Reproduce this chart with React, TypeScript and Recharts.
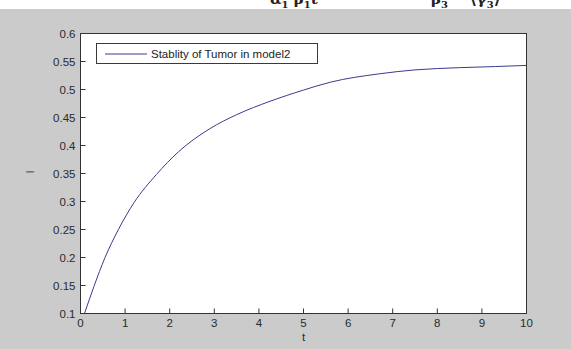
import React from 'react';
import { LineChart, Line, XAxis, YAxis, Legend } from 'recharts';

// time samples and stability values
const tValues = [0.09, 0.3, 0.55, 0.85, 1.2, 1.7, 2.2, 2.9, 3.5, 4.25, 5, 5.6, 6.7, 7.5, 8.5, 9.3, 10];
const iValues = [0.1, 0.148, 0.2, 0.25, 0.298, 0.348, 0.389, 0.43, 0.455, 0.479, 0.499, 0.513, 0.528, 0.535, 0.539, 0.541, 0.543];

const xTicks = [0, 1, 2, 3, 4, 5, 6, 7, 8, 9, 10];
const yTicks = [0.1, 0.15, 0.2, 0.25, 0.3, 0.35, 0.4, 0.45, 0.5, 0.55, 0.6];

const seriesName = 'Stablity of Tumor in model2';

const data = tValues.map((t, i) => ({ t, I: iValues[i] }));

const axisColor = '#333333';
const axisLine = { stroke: axisColor, strokeWidth: 1 };
const tickLine = { stroke: axisColor };
const font = { fontFamily: '"Liberation Sans", Arial, sans-serif', fontSize: 11.5, fill: '#2a2a2a' };
const hidden = { fill: 'none' };

const LegendBox = () => (
  <div
    style={{
      width: 222,
      height: 21,
      border: '1px solid #3a3a3a',
      background: '#fff',
      display: 'flex',
      alignItems: 'center',
      boxSizing: 'border-box',
      fontFamily: '"Liberation Sans", Arial, sans-serif',
      fontSize: 11.5,
      color: '#222',
      whiteSpace: 'nowrap',
    }}
  >
    <svg width={54} height={18}>
      <line x1={8} x2={50} y1={9} y2={9} stroke="#3b3b8c" strokeWidth={1} />
    </svg>
    <span>{seriesName}</span>
  </div>
);

export default function App() {
  return (
    <div style={{ position: 'absolute', left: 0, top: 0, width: 571, height: 349, background: '#cbcbcb', overflow: 'hidden' }}>
      {/* clipped equation strip above the figure */}
      <div style={{ position: 'absolute', left: 0, top: 0, width: 571, height: 9, background: '#fff', overflow: 'hidden', fontFamily: '"DejaVu Serif", serif', fontWeight: 'bold', fontSize: 15, color: '#222' }}>
        <span style={{ position: 'absolute', left: 270, top: -10 }}>α<sub style={{ fontSize: 10 }}>1</sub>·β<sub style={{ fontSize: 10 }}>1</sub>t</span>
        <span style={{ position: 'absolute', left: 431, top: -10 }}>β<sub style={{ fontSize: 10 }}>3</sub></span>
        <span style={{ position: 'absolute', left: 470, top: -10 }}>⟨γ<sub style={{ fontSize: 10 }}>3</sub>⟩</span>
      </div>
      {/* white axes background with box */}
      <div style={{ position: 'absolute', left: 80, top: 33, width: 447, height: 281, background: '#fff', border: '1px solid #333', boxSizing: 'border-box' }} />
      <div style={{ position: 'absolute', left: 0, top: 0 }}>
        <LineChart width={571} height={349} data={data} margin={{ top: 33.5, right: 44.5, bottom: 0, left: 0 }}>
          <XAxis
            xAxisId="b"
            dataKey="t"
            type="number"
            domain={[0, 10]}
            ticks={xTicks}
            height={35.5}
            tickSize={-5}
            tickMargin={10}
            tick={font}
            stroke={axisColor}
            axisLine={axisLine}
            tickLine={tickLine}
            label={{ value: 't', position: 'insideBottom', offset: 8, style: { ...font } }}
          />
          <XAxis
            xAxisId="top"
            orientation="top"
            dataKey="t"
            type="number"
            domain={[0, 10]}
            ticks={xTicks}
            height={0}
            tickSize={-5}
            tick={hidden}
            stroke={axisColor}
            axisLine={axisLine}
            tickLine={tickLine}
          />
          <YAxis
            yAxisId="l"
            type="number"
            domain={[0.1, 0.6]}
            ticks={yTicks}
            width={80.5}
            tickSize={-5}
            tickMargin={10}
            tick={font}
            stroke={axisColor}
            axisLine={axisLine}
            tickLine={tickLine}
            label={{ value: 'I', angle: -90, position: 'insideLeft', offset: 30, style: { ...font, fill: '#555' } }}
          />
          <YAxis
            yAxisId="r"
            orientation="right"
            type="number"
            domain={[0.1, 0.6]}
            ticks={yTicks}
            width={0}
            tickSize={-5}
            tick={hidden}
            stroke={axisColor}
            axisLine={axisLine}
            tickLine={tickLine}
          />
          <Legend
            verticalAlign="top"
            align="left"
            content={() => <LegendBox />}
            wrapperStyle={{ position: 'absolute', left: 96, top: 43, width: 0, height: 0, overflow: 'visible' }}
          />
          <Line
            xAxisId="b"
            yAxisId="l"
            dataKey="I"
            name={seriesName}
            type="monotone"
            stroke="#3b3b8c"
            strokeWidth={1}
            dot={false}
            isAnimationActive={false}
          />
        </LineChart>
      </div>
    </div>
  );
}
